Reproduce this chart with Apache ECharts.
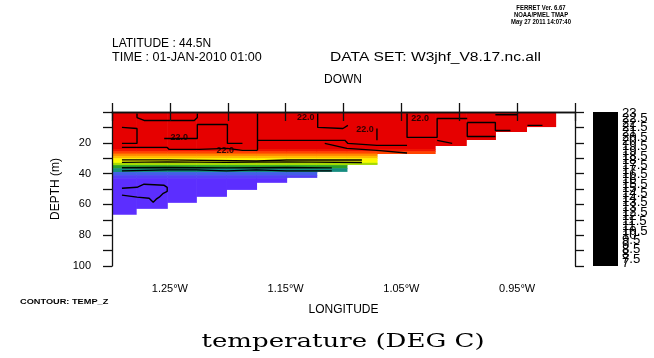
<!DOCTYPE html>
<html><head><meta charset="utf-8">
<script src="https://cdn.jsdelivr.net/npm/echarts@6/dist/echarts.min.js"></script>
<style>html,body{margin:0;padding:0;background:#fff}#c{width:654px;height:358px}</style>
</head><body><div id="c"></div>
<script>
// ---- data ----
const lonEdges = [-1.305, -1.2792, -1.2523, -1.2272, -1.2012, -1.1752, -1.1492, -1.1232, -1.0971, -1.0711, -1.0460, -1.0209, -0.9940, -0.9688, -0.9420, -0.9168];
const bottomDepth = [66.3, 62.5, 58.6, 54.7, 50.2, 45.6, 42.4, 38.5, 34.0, 26.9, 26.9, 21.7, 17.8, 12.6, 9.4];
const depthEdges = [0, 24, 25.5, 27, 28.5, 30, 31.5, 33, 34.5, 36.5, 39, 41, 43, 100];
const tempProfile = [22.5, 20.6, 19.8, 19.0, 18.2, 17.2, 16.9, 15.9, 15.0, 14.0, 13.0, 12.4, 11.8];
const paletteColors = ['#5c2eff','#5c2eff','#4260e6','#168c80','#2aa02a','#b4e000','#ffff00','#ffc800','#ff8800','#ff3300','#e60000','#e60000','#e60000'];
const tempMin = 11, tempMax = 23;
const xTickLabels = {'-1.25':'1.25°W','-1.15':'1.15°W','-1.05':'1.05°W','-0.95':'0.95°W'};
const colorbarLabels = ['23','22.5','22','21.5','21','20.5','20','19.5','19','18.5','18','17.5','17','16.5','16','15.5','15','14.5','14','13.5','13','12.5','12','11.5','11','10.5','10','9.5','9','8.5','8','7.5','7'];

// contour lines [lon, depth]
const contourT1 = [[-1.2914,31.1],[-1.2523,31.1],[-1.2523,31.8],[-1.1752,31.8],[-1.1492,31.2],[-1.0841,31.2]];
const contourT2 = [[-1.2914,32.7],[-1.2523,32.4],[-1.2012,32.7],[-1.1492,32.4],[-1.0841,32.8]];
const contourT3 = [[-1.2914,36.2],[-1.2523,36.0],[-1.2012,36.3],[-1.1492,36.0],[-1.1101,36.3]];
const contourT4 = [[-1.2914,38.2],[-1.2523,37.6],[-1.2272,37.6],[-1.2012,38.2],[-1.1752,37.6],[-1.1492,38.2],[-1.1101,38.2]];
const contourP1 = [[-1.2914,49.5],[-1.2784,48.9],[-1.2723,46.9],[-1.2549,47.6],[-1.2523,48.9],[-1.2523,51.5],[-1.2557,52.8],[-1.2592,55.3],[-1.2618,56.6],[-1.2644,58.6],[-1.2679,56.0],[-1.2784,55.3],[-1.2914,54.0]];
const contourR1 = [[-1.2784,0.9],[-1.2784,3.6],[-1.2723,5.5],[-1.2289,5.5],[-1.2263,3.6],[-1.2263,0.9]];
const contourR2 = [[-1.2914,10.0],[-1.2784,10.7],[-1.2784,20.4],[-1.2914,20.4]];
const contourR3 = [[-1.2914,23.0],[-1.2523,23.0],[-1.2506,24.3],[-1.2246,24.3],[-1.2003,23.6],[-1.1873,24.9],[-1.1743,24.9]];
const contourR4 = [[-1.2549,17.2],[-1.2263,17.2],[-1.2263,8.1],[-1.2003,8.1],[-1.2003,20.4],[-1.1873,20.4]];
const contourR5 = [[-1.1743,0.9],[-1.1743,24.9]];
const contourR6 = [[-1.1223,0.9],[-1.1223,10.0],[-1.1005,10.7],[-1.0962,8.7]];
const contourR7 = [[-1.1743,18.4],[-1.1223,18.4],[-1.0988,18.4],[-1.0962,20.4],[-1.0711,21.7],[-1.0451,21.7]];
const contourR8 = [[-1.0451,0.9],[-1.0451,16.5],[-1.0191,16.5],[-1.0191,4.2],[-0.9931,4.2]];
const contourR9 = [[-0.9931,6.8],[-0.9688,6.8],[-0.9688,12.0],[-0.9558,12.0]];
const contourR10 = [[-0.9931,6.8],[-0.9931,15.9],[-0.9688,15.9]];
const contourR11 = [[-0.9688,1.8],[-0.9497,1.8]];
const contourR12 = [[-0.9411,8.7],[-0.9281,8.7]];
const contourR13 = [[-1.1162,20.4],[-1.0971,23.6],[-1.0711,24.9],[-1.0451,26.6]];
const contourR14 = [[-1.0711,10.7],[-1.0711,18.4]];
const contourR15 = [[-1.0191,18.4],[-1.0061,20.4]];
const contourLabelPts = [[-1.2420,16.5,'22.0'],[-1.2021,24.9,'22.0'],[-1.1326,3.6,'22.0'],[-1.0815,11.3,'22.0'],[-1.0338,4.2,'22.0']];

// ---- build cells from the arrays ----
const cells = [];
for (let i = 0; i < bottomDepth.length; i++) {
  for (let k = 0; k < tempProfile.length; k++) {
    const top = depthEdges[k];
    if (top >= bottomDepth[i]) break;
    const bot = Math.min(depthEdges[k + 1], bottomDepth[i]);
    cells.push([lonEdges[i], lonEdges[i + 1], top, bot, tempProfile[k]]);
  }
}
const contours = [contourT1, contourT2, contourT3, contourT4, contourP1, contourR1, contourR2, contourR3, contourR4, contourR5, contourR6, contourR7, contourR8, contourR9, contourR10, contourR11, contourR12, contourR13, contourR14, contourR15];

const FONT = 'Liberation Sans';
const axisCommon = {
  type: 'value', splitLine: {show: false}, z: 20,
  axisLine: {lineStyle: {color: '#111', width: 1.3}},
  axisTick: {inside: false, length: 9, lineStyle: {color: '#111', width: 1.3}}
};

const series = [{
  type: 'custom', clip: true, data: cells, z: 1,
  encode: {x: [0, 1], y: [2, 3]},
  renderItem: function (params, api) {
    const p0 = api.coord([api.value(0), api.value(2)]);
    const p1 = api.coord([api.value(1), api.value(3)]);
    return {type: 'rect', shape: {x: Math.min(p0[0], p1[0]), y: Math.min(p0[1], p1[1]), width: Math.abs(p1[0] - p0[0]) + 0.6, height: Math.abs(p1[1] - p0[1]) + 0.6}, style: {fill: api.visual('color')}};
  }
}];
contours.forEach(c => series.push({type: 'line', data: c, symbol: 'none', silent: true, clip: true, z: 5, lineStyle: {color: '#000', width: 1.4}, animation: false}));
series.push({
  type: 'scatter', data: contourLabelPts, symbolSize: 0, silent: true, z: 6,
  label: {show: true, formatter: p => p.data[2], fontFamily: FONT, fontSize: 9, fontWeight: 'bold', color: '#000', position: 'inside'}
});

const graphicTexts = [
  {x: 112, y: 44, text: 'LATITUDE : 44.5N', size: 12, sx: 1.0},
  {x: 112, y: 58, text: 'TIME : 01-JAN-2010 01:00', size: 12, sx: 1.05},
  {x: 330, y: 58, text: 'DATA SET: W3jhf_V8.17.nc.all', size: 12, sx: 1.3},
  {x: 343, y: 80, text: 'DOWN', size: 12, align: 'center', sx: 1.0},
  {x: 541, y: 8, text: 'FERRET Ver. 6.67', size: 7, align: 'center', bold: true, sx: 0.85},
  {x: 541, y: 15, text: 'NOAA/PMEL TMAP', size: 7, align: 'center', bold: true, sx: 0.85},
  {x: 541, y: 22, text: 'May 27 2011 14:07:40', size: 7, align: 'center', bold: true, sx: 0.85},
  {x: 20, y: 302, text: 'CONTOUR: TEMP_Z', size: 8, bold: true, sx: 1.15}
];
const graphic = graphicTexts.map(t => ({
  type: 'text', x: t.x, y: t.y, scaleX: t.sx,
  style: {text: t.text, fontFamily: FONT, fontSize: t.size, fontWeight: t.bold ? 'bold' : 'normal', fill: '#000', align: t.align || 'left', verticalAlign: 'middle'}
}));
graphic.push({type: 'text', x: 343, y: 342, scaleX: 1.37, style: {text: 'temperature (DEG C)', fontFamily: 'DejaVu Serif', fontSize: 19, fill: '#000', align: 'center', verticalAlign: 'middle'}});
graphic.push({type: 'rect', shape: {x: 593, y: 112, width: 25, height: 154}, style: {fill: '#000'}});
colorbarLabels.forEach((s, i) => graphic.push({
  type: 'text', x: 622, y: 114 + i * (150 / (colorbarLabels.length - 1)), scaleX: 1.1,
  style: {text: s, fontFamily: FONT, fontSize: 12, fill: '#000', verticalAlign: 'middle'}
}));

const chart = echarts.init(document.getElementById('c'), null, {renderer: 'canvas'});
chart.setOption({
  animation: false,
  backgroundColor: '#fff',
  grid: {left: 112, right: 79, top: 112, bottom: 92},
  visualMap: {type: 'continuous', show: false, min: tempMin, max: tempMax, dimension: 4, seriesIndex: 0, inRange: {color: paletteColors}},
  xAxis: [
    Object.assign({}, axisCommon, {position: 'bottom', min: -1.30, max: -0.90, interval: 0.05,
      name: 'LONGITUDE', nameLocation: 'middle', nameGap: 38, nameTextStyle: {fontFamily: FONT, fontSize: 12, color: '#000'},
      axisLabel: {margin: 17, fontFamily: FONT, fontSize: 11, color: '#000', formatter: v => xTickLabels[(Math.round(v * 100) / 100).toFixed(2)] || ''}}),
    Object.assign({}, axisCommon, {position: 'top', min: -1.30, max: -0.90, interval: 0.05, axisLabel: {show: false}})
  ],
  yAxis: [
    Object.assign({}, axisCommon, {position: 'left', inverse: true, min: 0, max: 100, interval: 10,
      name: 'DEPTH (m)', nameLocation: 'middle', nameRotate: 90, nameGap: 45, nameTextStyle: {fontFamily: FONT, fontSize: 12, color: '#000'},
      axisLabel: {margin: 21, fontFamily: FONT, fontSize: 11, color: '#000', formatter: v => (v > 0 && v % 20 === 0) ? String(v) : ''}}),
    Object.assign({}, axisCommon, {position: 'right', inverse: true, min: 0, max: 100, interval: 10, axisLabel: {show: false}})
  ],
  series: series,
  graphic: graphic
});
</script></body></html>
